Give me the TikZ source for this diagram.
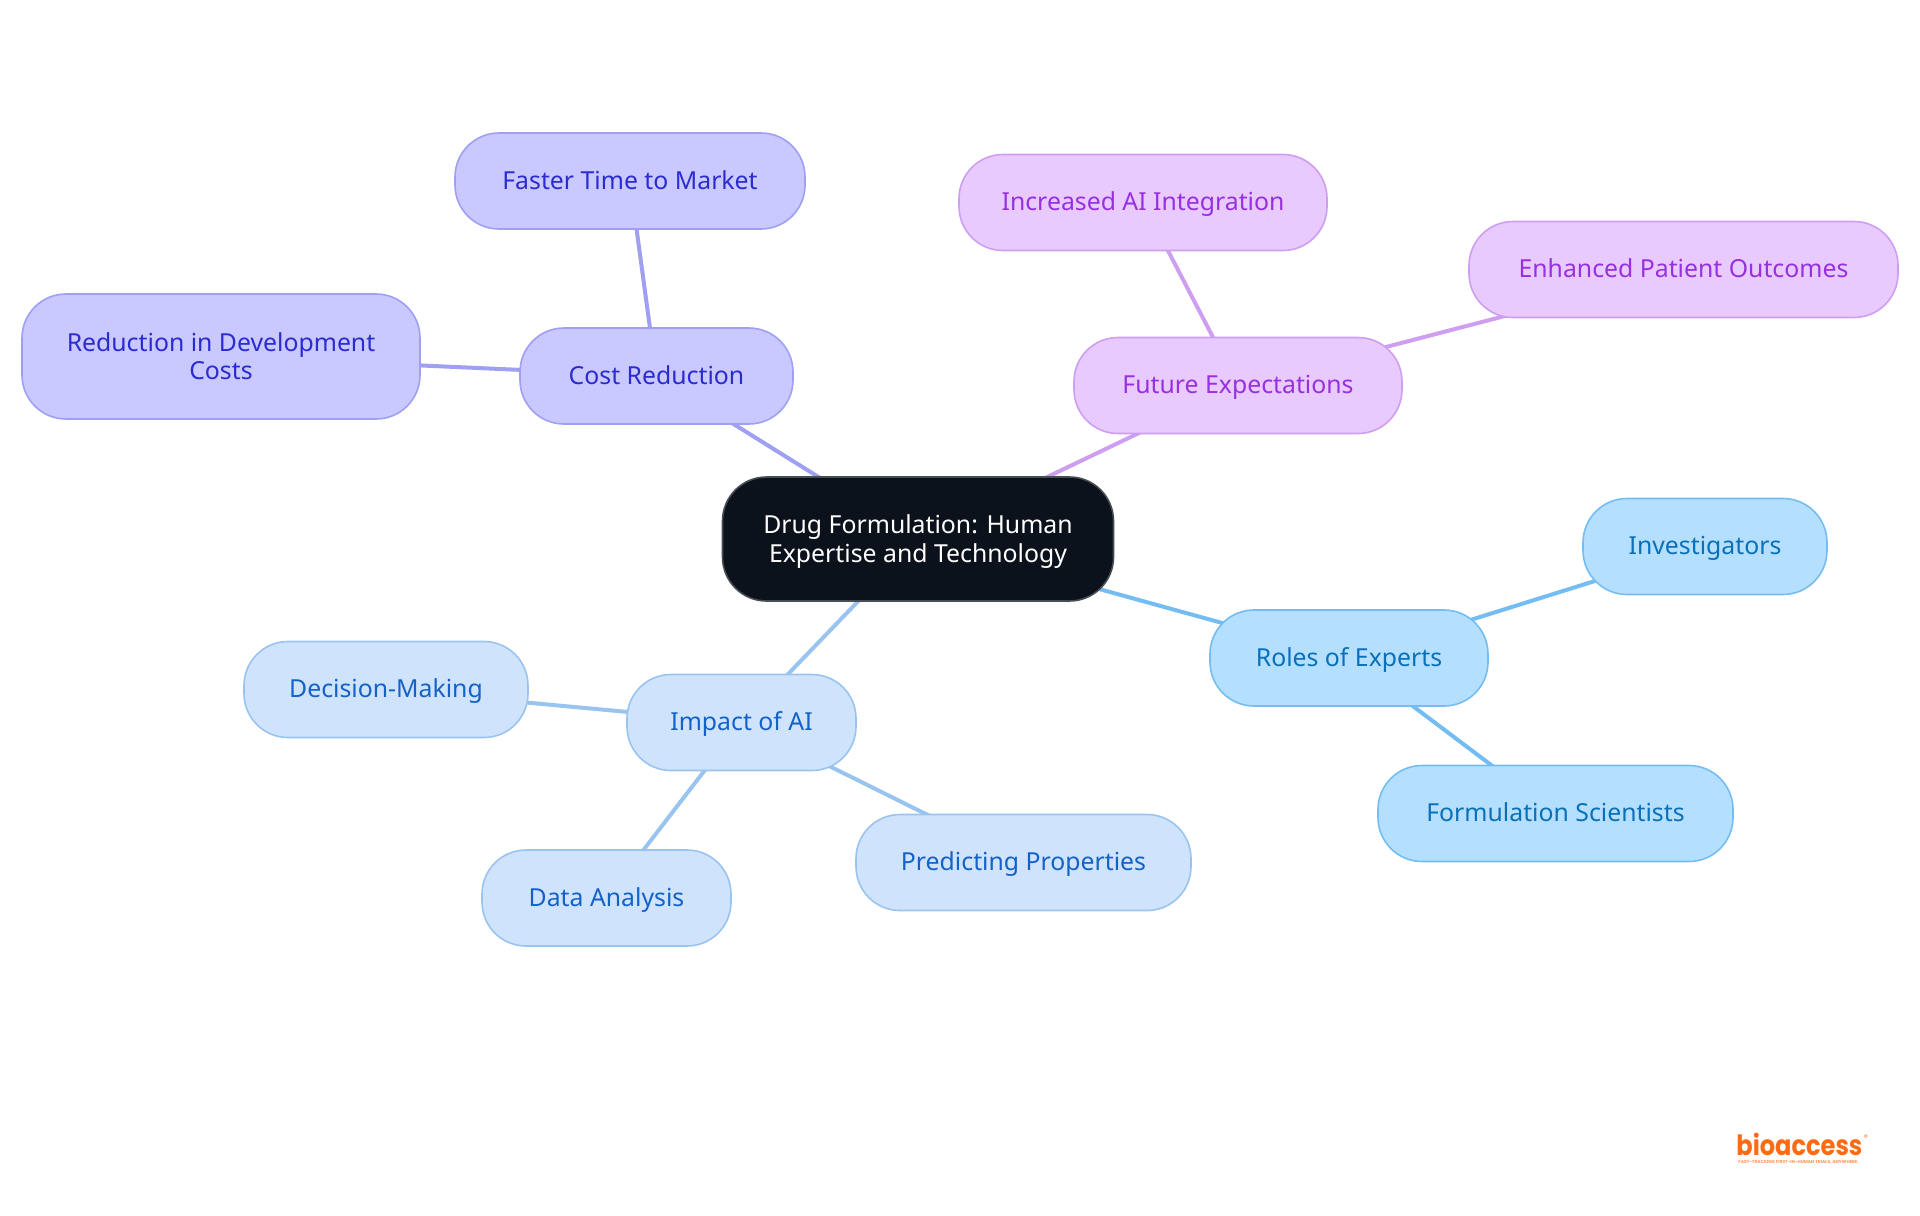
\documentclass[tikz,border=0pt]{standalone}
\usepackage{fontspec}
\setmainfont{Noto Sans}
\newfontfamily\logofont{Poppins}
\usetikzlibrary{backgrounds}
\definecolor{cA}{HTML}{C9C9FF}\definecolor{tA}{HTML}{2B2BD0}\definecolor{lA}{HTML}{9F9FF3}
\definecolor{cB}{HTML}{E9CAFF}\definecolor{tB}{HTML}{9730E0}\definecolor{lB}{HTML}{CE9EF0}
\definecolor{cC}{HTML}{B5DFFF}\definecolor{tC}{HTML}{0A70B8}\definecolor{lC}{HTML}{74BDF2}
\definecolor{cD}{HTML}{CFE3FC}\definecolor{tD}{HTML}{1462C8}\definecolor{lD}{HTML}{9AC4F0}
\definecolor{dark}{HTML}{0B121B}\definecolor{orangelogo}{HTML}{FF6A13}
\tikzset{
  pill/.style={rectangle,rounded corners=22pt,line width=0.8pt,inner sep=0pt,align=center,font=\fontsize{12.4}{14.4}\selectfont,execute at begin node=\vphantom{g}\rule{0pt}{11pt}},
  famA/.style={pill,fill=cA,draw=lA,text=tA},
  famB/.style={pill,fill=cB,draw=lB,text=tB},
  famC/.style={pill,fill=cC,draw=lC,text=tC},
  famD/.style={pill,fill=cD,draw=lD,text=tD},
  root/.style={pill,fill=dark,draw=dark!75!white,text=white},
  linkA/.style={draw=lA,line width=2pt},
  linkB/.style={draw=lB,line width=2pt},
  linkC/.style={draw=lC,line width=2pt},
  linkD/.style={draw=lD,line width=2pt},
}
\begin{document}
\begin{tikzpicture}[x=0.5pt,y=-0.5pt]
\useasboundingbox (0,0) rectangle (1920,1215);
\node[root,minimum width=195.5pt,minimum height=62pt] (center) at (918,539) {\rule{0pt}{12pt}Drug Formulation: Human\\Expertise and Technology};
\node[famA,minimum width=136.5pt,minimum height=48pt] (cost) at (656.5,376) {Cost Reduction};
\node[famA,minimum width=175pt,minimum height=48pt] (faster) at (630,181) {Faster Time to Market};
\node[famA,minimum width=199pt,minimum height=62.5pt] (reduce) at (221,356.5) {\rule{0pt}{12pt}Reduction in Development\\\vphantom{g}Costs};
\node[famB,minimum width=164pt,minimum height=48pt] (future) at (1238,385.5) {Future Expectations};
\node[famB,minimum width=184pt,minimum height=48pt] (incr) at (1143,202.5) {Increased AI Integration};
\node[famB,minimum width=214.5pt,minimum height=48pt] (enh) at (1683.5,269.5) {Enhanced Patient Outcomes};
\node[famC,minimum width=139pt,minimum height=48pt] (roles) at (1349,658) {Roles of Experts};
\node[famC,minimum width=122pt,minimum height=48pt] (inv) at (1705,546.5) {Investigators};
\node[famC,minimum width=177.5pt,minimum height=48pt] (form) at (1555.5,813.5) {Formulation Scientists};
\node[famD,minimum width=114.5pt,minimum height=48pt] (impact) at (741.5,722.5) {Impact of AI};
\node[famD,minimum width=142pt,minimum height=48pt] (dec) at (386,689.5) {Decision-Making};
\node[famD,minimum width=124.5pt,minimum height=48pt] (data) at (606.5,898) {Data Analysis};
\node[famD,minimum width=167.5pt,minimum height=48pt] (pred) at (1023.5,862.5) {Predicting Properties};
\begin{scope}[on background layer]
\draw[linkA] (center.center) -- (cost.center);
\draw[linkA] (cost.center) -- (faster.center);
\draw[linkA] (cost.center) -- (reduce.center);
\draw[linkB] (center.center) -- (future.center);
\draw[linkB] (future.center) -- (incr.center);
\draw[linkB] (future.center) -- (enh.center);
\draw[linkC] (center.center) -- (roles.center);
\draw[linkC] (roles.center) -- (inv.center);
\draw[linkC] (roles.center) -- (form.center);
\draw[linkD] (center.center) -- (impact.center);
\draw[linkD] (impact.center) -- (dec.center);
\draw[linkD] (impact.center) -- (data.center);
\draw[linkD] (impact.center) -- (pred.center);
\end{scope}
\node[inner sep=0pt,anchor=base west,text=orangelogo] (logo) at (1736,1155) {\scalebox{0.86}[1]{\logofont\fontsize{14}{14}\selectfont\bfseries bioaccess}};
\node[inner sep=0pt,text=orangelogo] (reg) at (1866,1137.5) {\logofont\fontsize{4}{4}\selectfont ®};
\node[inner sep=0pt,anchor=west,text=orangelogo!70!white] (tag) at (1738,1162) {\logofont\fontsize{2.2}{2.4}\selectfont\bfseries FAST-TRACKING FIRST-IN-HUMAN TRIALS, ANYWHERE};
\end{tikzpicture}
\end{document}
